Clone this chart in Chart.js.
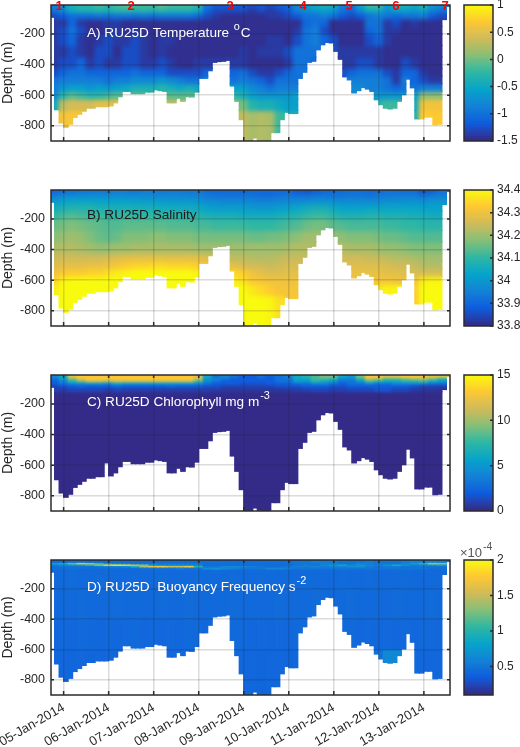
<!DOCTYPE html>
<html>
<head>
<meta charset="utf-8">
<title>RU25D sections</title>
<script src="https://cdn.jsdelivr.net/npm/chart.js@4"></script>
<style>
  html, body { margin: 0; padding: 0; background: #fff; }
  #page { position: relative; width: 520px; height: 747px; overflow: hidden; }
  canvas { position: absolute; }
</style>
</head>
<body>
<div id="page"></div>
<script>
// axis labels
const dayTicks = [5, 6, 7, 8, 9, 10, 11, 12, 13];
const dayLabels = ["05-Jan-2014", "06-Jan-2014", "07-Jan-2014", "08-Jan-2014", "09-Jan-2014", "10-Jan-2014", "11-Jan-2014", "12-Jan-2014", "13-Jan-2014"];
const depthTicks = [-200, -400, -600, -800];
const stationDays = [4.9, 6.5, 8.7, 10.32, 11.34, 12.38, 13.47];
const stationLabels = ["1", "2", "3", "4", "5", "6", "7"];

// seabed under the glider track, one value per 0.1 day starting at 4.75
const seabed = [-90,-695,-782,-810,-790,-745,-725,-705,-685,-685,-675,-675,-675,-670,-650,-610,-575,-575,-590,-590,
  -590,-580,-580,-565,-570,-575,-650,-650,-620,-640,-610,-612,-580,-490,-490,-440,-385,-380,-378,-372,
  -540,-640,-760,-900,-900,-880,-895,-900,-900,-845,-845,-760,-712,-720,-720,-490,-450,-385,-378,-303,
  -270,-255,-258,-313,-365,-480,-500,-585,-570,-550,-560,-575,-630,-662,-685,-690,-685,-640,-597,-495,
  -552,-755,-755,-743,-743,-793,-790,-105,-20];

// depth bin edges, and cell values: one row per bin, one value per 0.2 day
const tsEdges = [-10,-30,-60,-100,-150,-200,-275,-350,-425,-475,-525,-575,-625,-700,-900];
const temperature = [
[-.9,-.7,-.4,-.3,-.3,-.2,-.3,-.2,-.1,-.2,-.2,-.2,-.1,-.2,-.2,-.2,-.3,-1,-1.2,-1.2,-1.2,-1.2,-1.3,-1.2,-1.3,-1.2,-1.1,-.8,-.6,-.5,-.4,-.5,-.9,-1,-.6,-.2,-.2,-.6,-.4,-.4,-.5,-.3,-.7,-.8,-.9],
[-1,-.8,-.5,-.4,-.4,-.35,-.4,-.3,-.3,-.35,-.3,-.35,-.3,-.35,-.35,-.35,-.5,-1.1,-1.3,-1.3,-1.3,-1.3,-1.4,-1.3,-1.4,-1.3,-1.2,-.9,-.8,-.7,-.6,-.7,-1,-1.1,-.8,-.5,-.5,-.8,-.6,-.6,-.7,-.6,-.9,-1,-1],
[-1.3,-1.2,-1.05,-1.05,-1.05,-1,-1.05,-1,-1,-1.05,-1,-1.05,-1,-1,-1,-1,-1.1,-1.3,-1.4,-1.47,-1.47,-1.47,-1.47,-1.47,-1.4,-1.4,-1.3,-1.2,-1,-1,-.9,-1,-1.2,-1.3,-1.2,-1,-.9,-1,-1.1,-1,-1,-.9,-1.2,-1.3,-1.3],
[-1.4,-1.4,-1.1,-1.4,-1.47,-1.47,-1.4,-1.4,-1.47,-1.47,-1.47,-1.47,-1.47,-1.47,-1.47,-1.47,-1.47,-1.47,-1.47,-1.47,-1.47,-1.47,-1.47,-1.47,-1.47,-1.47,-1.47,-1.47,-1.1,-1,-1.1,-1.47,-1.47,-1.47,-1.47,-1,-1,-1.4,-1.28,-1.47,-1.4,-1.47,-1.47,-1.47,-1.47],
[-1.4,-1.28,-1,-1.28,-1.47,-1.47,-1.4,-1.4,-1.47,-1.4,-1.47,-1.47,-1.47,-1.47,-1.47,-1.47,-1.47,-1.47,-1.47,-1.47,-1.47,-1.47,-1.47,-1.47,-1.47,-1.47,-1.47,-1.4,-1,-.9,-1.28,-1.47,-1.47,-1.47,-1.47,-1.1,-1,-1.4,-1.4,-1.47,-1.47,-1.47,-1.47,-1.47,-1.47],
[-1.4,-1.28,-1.1,-1.4,-1.47,-1.4,-1.28,-1.4,-1.4,-1.28,-1.4,-1.47,-1.4,-1.4,-1.47,-1.47,-1.47,-1.47,-1.47,-1.47,-1.47,-1.47,-1.47,-1.47,-1.4,-1.4,-1.47,-1.28,-1,-.9,-1.1,-1.28,-1.47,-1.47,-1.47,-1.28,-1.1,-1.4,-1.47,-1.47,-1.47,-1.47,-1.47,-1.47,-1.47],
[-1.4,-1.4,-1.28,-1.4,-1.47,-1.28,-1.28,-1.47,-1.28,-1.28,-1.4,-1.47,-1.4,-1.47,-1.47,-1.47,-1.47,-1.47,-1.47,-1.47,-1.47,-1.4,-1.47,-1.4,-1.4,-1.4,-1.28,-1,-1,-1,-1.1,-1.28,-1.4,-1.4,-1.4,-1.4,-1.4,-1.47,-1.47,-1.47,-1.47,-1.47,-1.47,-1.47,-1.47],
[-1.4,-1.28,-1.28,-1.1,-1.4,-1.28,-1.4,-1.4,-1.28,-1.28,-1.4,-1.4,-1.28,-1.4,-1.47,-1.47,-1.4,-1.4,-1.4,-1.4,-1.4,-1.4,-1.47,-1.47,-1.47,-1.47,-1.4,-1,-1,-1.1,-1.28,-1.4,-1.4,-1.4,-1.28,-1.28,-1.4,-1.47,-1.47,-1.28,-1.4,-1.47,-1.47,-1.47,-1.47],
[-1.28,-1.1,-1,-1,-1.1,-1.1,-1.1,-1.1,-1.1,-1,-1.1,-1.1,-1.1,-1.28,-1.28,-1.28,-1.28,-1.1,-1.28,-1.28,-1.1,-1,-1.28,-1.4,-1.4,-1.28,-1.1,-1,-1,-1,-1,-1,-1.28,-1.1,-1,-1,-1,-1.28,-1.4,-1.1,-1.1,-1.4,-1.47,-1.47,-1.47],
[-1,-.9,-.9,-.9,-.9,-.9,-1,-.9,-.9,-.8,-.8,-.8,-.7,-.8,-.9,-1,-1,-.9,-.9,-.9,-1,-.9,-1,-1.1,-1.28,-1,-1,-1,-1,-1,-1,-1,-1.1,-.9,-.9,-.9,-.9,-1,-1.4,-.9,-1.1,-1.28,-1.4,-1.4,-1.4],
[-.9,-.7,-.6,-.6,-.7,-.6,-.7,-.6,-.5,-.4,-.4,-.4,-.3,-.4,-.5,-.4,-.5,-.5,-.5,-.5,-.6,-.6,-.8,-.9,-1,-.9,-.9,-.9,-.9,-.9,-.9,-.9,-.9,-.8,-.8,-.9,-.9,-1,-1.1,-1,-1,-.9,-.9,-.9,-.9],
[-.8,-.3,-.1,-.2,-.3,-.3,-.2,-.1,-.1,-.1,-.1,-.1,-.1,-.1,-.1,-.1,-.2,-.3,-.3,-.3,-.3,-.4,-.6,-.7,-.7,-.7,-.7,-.6,-.6,-.7,-.8,-.8,-.8,-.8,-.8,-.8,-.7,-.7,-.7,-.7,-.6,.1,.1,.1,.1],
[-.5,.3,.4,.4,.4,.5,.5,.5,.4,.4,.3,.3,.3,.3,.3,.3,.2,.1,.1,.1,.1,0,-.3,-.4,-.4,-.5,-.6,-.6,-.6,-.7,-.8,-.8,-.8,-.8,-.8,-.8,-.3,-.2,-.2,-.3,-.5,.6,.6,.6,.6],
[.4,.6,.65,.65,.65,.6,.6,.55,.5,.5,.5,.5,.5,.5,.4,.4,.3,.3,.3,.3,.3,.3,.2,.25,.2,-.2,-.4,-.4,-.5,-.5,-.5,-.5,-.5,-.5,-.5,-.5,-.2,-.1,0,-.2,-.4,.7,.7,.7,.7]
];
const salinity = [
[33.9,33.91,33.92,33.93,33.93,33.93,33.93,33.94,33.94,33.93,33.94,33.94,33.93,33.93,33.93,33.93,33.93,33.91,33.9,33.9,33.9,33.9,33.9,33.9,33.9,33.9,33.9,33.87,33.86,33.87,33.9,33.9,33.91,33.91,33.91,33.9,33.91,33.92,33.91,33.91,33.91,33.86,33.88,33.92,33.92],
[33.94,33.96,33.97,33.97,33.97,33.98,33.97,33.98,33.97,33.97,33.97,33.96,33.96,33.96,33.96,33.95,33.95,33.93,33.92,33.92,33.92,33.92,33.92,33.91,33.91,33.92,33.93,33.92,33.92,33.93,33.93,33.92,33.92,33.93,33.93,33.92,33.93,33.93,33.94,33.94,33.94,33.92,33.94,33.94,33.95],
[34.0,34.02,34.03,34.03,34.03,34.02,34.02,34.02,34.02,34.02,34.01,34.01,34.01,34.0,34.0,34.0,33.99,33.97,33.97,33.96,33.96,33.96,33.96,33.95,33.95,33.96,33.96,33.97,33.97,33.98,33.98,33.98,33.97,33.97,33.97,33.97,33.97,33.98,33.98,33.98,33.98,33.98,33.99,33.99,33.99],
[34.05,34.07,34.08,34.08,34.08,34.07,34.07,34.06,34.07,34.06,34.06,34.06,34.05,34.05,34.05,34.05,34.04,34.02,34.01,34.01,34.01,34.01,34.0,34.0,34.0,34.01,34.02,34.03,34.05,34.06,34.06,34.04,34.02,34.02,34.02,34.03,34.03,34.03,34.03,34.03,34.03,34.02,34.02,34.02,34.02],
[34.1,34.12,34.13,34.12,34.11,34.11,34.1,34.1,34.11,34.1,34.1,34.1,34.1,34.1,34.09,34.09,34.08,34.07,34.06,34.06,34.06,34.05,34.05,34.05,34.05,34.06,34.07,34.08,34.1,34.11,34.11,34.09,34.07,34.07,34.07,34.08,34.08,34.07,34.07,34.07,34.06,34.06,34.05,34.05,34.05],
[34.15,34.16,34.17,34.16,34.15,34.14,34.13,34.13,34.14,34.14,34.14,34.14,34.14,34.13,34.13,34.13,34.12,34.12,34.11,34.11,34.11,34.11,34.1,34.1,34.1,34.11,34.12,34.13,34.15,34.16,34.16,34.14,34.13,34.12,34.12,34.12,34.12,34.11,34.11,34.1,34.1,34.09,34.09,34.09,34.09],
[34.18,34.19,34.2,34.19,34.17,34.15,34.14,34.15,34.17,34.17,34.17,34.18,34.18,34.17,34.17,34.17,34.16,34.16,34.16,34.16,34.16,34.16,34.15,34.15,34.16,34.16,34.17,34.18,34.2,34.2,34.2,34.19,34.18,34.17,34.17,34.17,34.16,34.15,34.15,34.14,34.13,34.13,34.13,34.13,34.13],
[34.21,34.22,34.22,34.21,34.2,34.19,34.19,34.2,34.2,34.21,34.21,34.21,34.21,34.21,34.21,34.21,34.2,34.2,34.2,34.2,34.2,34.2,34.2,34.2,34.2,34.2,34.21,34.22,34.22,34.22,34.22,34.22,34.22,34.21,34.21,34.21,34.2,34.19,34.19,34.18,34.17,34.17,34.17,34.17,34.17],
[34.24,34.25,34.25,34.25,34.25,34.25,34.26,34.27,34.28,34.28,34.28,34.28,34.28,34.28,34.28,34.28,34.28,34.27,34.26,34.25,34.23,34.23,34.22,34.22,34.22,34.23,34.24,34.24,34.24,34.24,34.24,34.25,34.25,34.25,34.25,34.24,34.24,34.23,34.22,34.22,34.21,34.2,34.2,34.2,34.2],
[34.27,34.28,34.28,34.28,34.29,34.29,34.3,34.31,34.33,34.34,34.34,34.35,34.35,34.34,34.34,34.34,34.33,34.32,34.31,34.3,34.28,34.26,34.25,34.25,34.24,34.25,34.26,34.26,34.26,34.26,34.26,34.27,34.27,34.27,34.27,34.27,34.27,34.26,34.25,34.25,34.24,34.22,34.22,34.22,34.22],
[34.3,34.32,34.33,34.33,34.34,34.34,34.36,34.38,34.39,34.4,34.4,34.4,34.4,34.4,34.4,34.4,34.39,34.39,34.38,34.37,34.35,34.33,34.3,34.28,34.27,34.27,34.28,34.28,34.28,34.28,34.28,34.29,34.29,34.29,34.29,34.29,34.29,34.28,34.28,34.27,34.26,34.26,34.26,34.26,34.26],
[34.34,34.39,34.4,34.4,34.4,34.4,34.4,34.4,34.4,34.4,34.4,34.4,34.4,34.4,34.4,34.4,34.4,34.4,34.4,34.4,34.38,34.36,34.32,34.31,34.3,34.3,34.3,34.3,34.3,34.3,34.3,34.31,34.31,34.31,34.31,34.31,34.31,34.31,34.3,34.3,34.3,34.38,34.39,34.39,34.38],
[34.38,34.4,34.4,34.4,34.4,34.4,34.4,34.4,34.4,34.4,34.4,34.4,34.4,34.4,34.4,34.4,34.4,34.4,34.4,34.4,34.4,34.4,34.37,34.35,34.33,34.31,34.31,34.31,34.31,34.31,34.31,34.31,34.31,34.31,34.31,34.31,34.37,34.39,34.39,34.37,34.33,34.4,34.4,34.4,34.4],
[34.4,34.4,34.4,34.4,34.4,34.4,34.4,34.4,34.4,34.4,34.4,34.4,34.4,34.4,34.4,34.4,34.4,34.4,34.4,34.4,34.4,34.4,34.4,34.4,34.39,34.36,34.32,34.32,34.32,34.32,34.32,34.32,34.32,34.32,34.32,34.32,34.38,34.4,34.4,34.38,34.33,34.4,34.4,34.4,34.4]
];

const chlEdges = [-10,-25,-40,-55,-70,-90,-120,-900];
const chlorophyll = [
[4,6,12,13,13,13,13,13,13,13,13,13,13,13,13,13,12,6,3,4,3,2,2,3,2,3,4,6,7,8,9,9,6,5,9,13,13,12,12,13,13,13,12,12,12],
[3,5,9,12,13,13,13,13,13,13,13,13,13,13,13,13,11,5,4,3,2,2,2,2,2,3,3,6,6,8,8,7,4,4,7,11,10,8,8,9,10,10,9,7,8],
[2,4,7,9,11,11,10,11,11,11,11,11,11,11,11,11,8,4,3,2,2,2,2,2,2,3,3,5,5,7,6,5,3,3,5,8,7,6,6,7,7,8,6,5,4],
[2,3,4,4,5,5,4,6,5,5,5,5,5,5,5,5,4,3,2,2,2,1.5,1.5,1.5,2,2,2,3,3,4,4,3,2,3,3,4,3,3,4,4,4,4,3,3,2],
[1,1.5,2,2.5,2,2,2,2.5,2,2,2,2,2,2.5,2,2,2,1.5,1.5,1,1,1,1,1,1,1.5,1.5,1.5,2,2,2,1.5,1.5,2,2,2,2,2,2,2,1.5,1,1,1,1],
[.8,.7,1,1,1,1,.7,1,.8,.7,.8,.7,.7,.7,.7,.7,.7,.7,.6,.5,.5,.5,.5,.5,.5,.5,.6,.7,.8,1,1,.8,.8,1,1,1,1.5,1.5,1,1,.6,.5,.4,.3,.3],
[.05,.05,.05,.05,.05,.05,.05,.05,.05,.05,.05,.05,.05,.05,.05,.05,.05,.05,.05,.05,.05,.05,.05,.05,.05,.05,.05,.05,.05,.05,.05,.05,.05,.05,.05,.05,.05,.05,.05,.05,.05,.05,.05,.05,.05]
];

const buoyEdges = [-10,-25,-35,-45,-55,-70,-100,-200,-400,-600,-900];
const buoyancy = [
[.45,.45,.48,.5,.45,.45,.45,.45,.45,.45,.45,.45,.45,.45,.45,.45,.45,.45,.45,.45,.45,.45,.45,.45,.45,.45,.45,.5,.5,.55,.55,.55,.5,.5,.5,.55,.5,.5,.5,.55,.6,.6,.6,.55,.5],
[.8,.9,1.2,1.6,1.4,1.1,.7,.6,.55,.5,.5,.5,.5,.5,.5,.5,.5,.45,.45,.45,.45,.45,.45,.45,.45,.45,.45,.5,.5,.5,.55,.55,.5,.5,.6,.55,.5,.5,.5,.6,.8,1,1.4,1.3,.8],
[.55,.6,.7,.75,1,1.3,1.8,1.9,1.8,1.5,1.3,.8,.7,.7,.7,.7,.6,.45,.45,.45,.45,.45,.45,.45,.45,.45,.45,.5,.55,.5,.6,.7,.85,.6,.7,.6,.55,.7,.9,.7,.55,.6,.7,.8,.6],
[.45,.5,.5,.5,.5,.55,.6,.6,.7,1,1.4,1.7,1.7,1.5,1.5,1.7,1,.5,.5,.6,.65,.6,.55,.5,.45,.45,.5,.55,.55,.6,.55,.6,.6,.7,.7,.55,.5,.55,.55,.5,.5,.5,.5,.5,.5],
[.45,.45,.45,.45,.45,.45,.45,.45,.45,.45,.5,.5,.5,.5,.55,.5,.5,.65,.7,.6,.55,.5,.5,.5,.6,.6,.55,.5,.5,.5,.5,.5,.5,.5,.5,.5,.5,.5,.5,.5,.5,.5,.45,.45,.45],
[.42,.43,.44,.42,.43,.42,.44,.42,.43,.42,.43,.42,.43,.42,.43,.42,.43,.42,.44,.42,.43,.43,.42,.43,.44,.43,.42,.43,.44,.43,.42,.43,.44,.43,.42,.44,.43,.42,.43,.44,.42,.43,.42,.43,.42],
[.42,.43,.44,.42,.43,.44,.42,.43,.42,.44,.42,.43,.44,.42,.43,.42,.44,.43,.42,.43,.44,.42,.43,.44,.43,.42,.43,.42,.44,.43,.42,.43,.44,.42,.43,.44,.42,.43,.42,.44,.43,.42,.43,.42,.43],
[.42,.43,.42,.44,.43,.42,.43,.44,.42,.43,.42,.43,.44,.42,.43,.44,.42,.43,.42,.43,.44,.42,.43,.42,.43,.44,.42,.43,.42,.44,.43,.42,.43,.44,.43,.42,.43,.42,.44,.43,.42,.43,.44,.42,.43],
[.41,.42,.41,.42,.43,.41,.42,.41,.42,.43,.41,.42,.41,.42,.41,.43,.42,.41,.42,.41,.42,.43,.41,.42,.41,.42,.41,.43,.42,.41,.42,.41,.42,.43,.41,.42,.41,.42,.41,.42,.41,.43,.42,.41,.42],
[.41,.41,.4,.41,.4,.41,.41,.4,.41,.4,.41,.41,.4,.41,.41,.4,.41,.41,.4,.41,.4,.41,.41,.4,.41,.41,.4,.41,.41,.4,.41,.41,.4,.47,.47,.45,.47,.62,.62,.5,.42,.41,.41,.41,.41]
];

// colour bar ticks
const tempCbTicks = [1, 0.5, 0, -0.5, -1, -1.5];
const saltCbTicks = [34.4, 34.3, 34.2, 34.1, 34, 33.9, 33.8];
const chlCbTicks = [15, 10, 5, 0];
const buoyCbTicks = [2, 1.5, 1, 0.5];

const parula = ["#352a87", "#0f5cdd", "#1481d6", "#06a4ca", "#2eb7a4", "#87bf77", "#d1bb59", "#fec832", "#f9fb0e"];

function hexRgb(h) {
  return [parseInt(h.slice(1, 3), 16), parseInt(h.slice(3, 5), 16), parseInt(h.slice(5, 7), 16)];
}

function colorFor(v, lo, hi) {
  const t = Math.min(1, Math.max(0, (v - lo) / (hi - lo))) * (parula.length - 1);
  const i = Math.min(parula.length - 2, Math.floor(t));
  const a = hexRgb(parula[i]), b = hexRgb(parula[i + 1]), f = t - i;
  return `rgb(${a.map((c, k) => Math.round(c + (b[k] - c) * f)).join(",")})`;
}

Chart.defaults.font.family = "'Liberation Sans', Arial, sans-serif";
Chart.defaults.font.size = 12.5;
Chart.defaults.color = "#262626";
Chart.defaults.animation = false;
Chart.defaults.events = [];
Chart.defaults.plugins.legend.display = false;
Chart.defaults.plugins.tooltip.enabled = false;

const INK = "#2b2b2b";

function addCanvas(left, top, width, height) {
  const c = document.createElement("canvas");
  c.width = width;
  c.height = height;
  c.style.left = left + "px";
  c.style.top = top + "px";
  c.style.width = width + "px";
  c.style.height = height + "px";
  document.getElementById("page").appendChild(c);
  return c.getContext("2d");
}

// text with a raised tail, e.g. m^-3
function drawSupText(ctx, x, y, main, sup, tail, color, size) {
  ctx.save();
  ctx.fillStyle = color;
  ctx.textBaseline = "middle";
  ctx.textAlign = "left";
  ctx.font = `${size}px 'Liberation Sans', Arial, sans-serif`;
  ctx.fillText(main, x, y);
  let w = ctx.measureText(main).width;
  if (sup) {
    ctx.font = `${size * 0.8}px 'Liberation Sans', Arial, sans-serif`;
    ctx.fillText(sup, x + w + 1, y - 6);
    w += ctx.measureText(sup).width + 1;
  }
  if (tail) {
    ctx.font = `${size}px 'Liberation Sans', Arial, sans-serif`;
    ctx.fillText(tail, x + w + 1, y);
  }
  ctx.restore();
}

// box and inward ticks, drawn over the cells
function frame(ctx, area, xTicks, yTicks, bothSides) {
  ctx.save();
  ctx.strokeStyle = INK;
  ctx.lineWidth = 1.5;
  ctx.beginPath();
  xTicks.forEach(px => {
    ctx.moveTo(px, area.bottom);
    ctx.lineTo(px, area.bottom - 4);
    ctx.moveTo(px, area.top);
    ctx.lineTo(px, area.top + 3);
  });
  yTicks.forEach(py => {
    if (bothSides) {
      ctx.moveTo(area.left, py);
      ctx.lineTo(area.left + 3, py);
    }
    ctx.moveTo(area.right, py);
    ctx.lineTo(area.right - 3, py);
  });
  ctx.stroke();
  ctx.strokeRect(area.left, area.top, area.right - area.left, area.bottom - area.top);
  ctx.restore();
}

function makePanel(opt) {
  const { top, height, edges, grid, lo, hi, showDates, extra, floorOverride, smooth } = opt;
  const xs = seabed.map((_, i) => 4.75 + i * 0.1);
  const datasets = grid.map((row, r) => {
    const upper = edges[r], lower = edges[r + 1];
    const colors = [];
    const data = xs.map((x, i) => {
      const v = row[Math.min(row.length - 1, Math.floor(i / 2))];
      colors.push(colorFor(v, lo, hi));
      const floor = floorOverride && floorOverride[i] !== undefined ? floorOverride[i] : seabed[i];
      if (upper <= floor) return { x, y: null };
      return { x, y: [Math.max(lower, floor), upper] };
    });
    return {
      data,
      backgroundColor: colors,
      borderWidth: 0,
      inflateAmount: 0.6,
      grouped: false,
      barPercentage: 1,
      categoryPercentage: 1
    };
  });

  new Chart(addCanvas(0, top, 520, height), {
    type: "bar",
    data: { datasets },
    options: {
      responsive: false,
      layout: { padding: { top: 5, right: 70, bottom: showDates ? 0 : 3, left: 0 } },
      scales: {
        x: {
          type: "linear",
          offset: false,
          min: 4.72,
          max: 13.58,
          afterBuildTicks: s => { s.ticks = dayTicks.map(value => ({ value })); },
          afterFit: s => { s.height = showDates ? 52 : 0; s.paddingLeft = 0; s.paddingRight = 0; },
          grid: { z: 1, offset: false, color: "rgba(30,30,30,0.16)", lineWidth: 1.5, drawTicks: false },
          border: { display: false },
          ticks: {
            display: !!showDates,
            autoSkip: false,
            minRotation: 30,
            maxRotation: 30,
            padding: 5,
            font: { size: 13 },
            callback: v => dayLabels[dayTicks.indexOf(v)]
          }
        },
        y: {
          min: -900,
          max: -10,
          afterBuildTicks: s => { s.ticks = depthTicks.map(value => ({ value })); },
          afterFit: s => { s.width = 51; s.paddingTop = 0; s.paddingBottom = 0; },
          grid: { z: 1, color: "rgba(30,30,30,0.16)", lineWidth: 1.5, drawTicks: false },
          border: { display: false },
          ticks: { padding: 6 },
          title: { display: true, text: "Depth (m)", font: { size: 14 }, padding: 0 }
        }
      }
    },
    plugins: [{
      id: "panelExtras",
      // soften the cell steps, the seabed edge stays as it is
      afterDatasetsDraw(chart) {
        const { ctx, chartArea: a, canvas } = chart;
        const w = Math.round(a.right - a.left), h = Math.round(a.bottom - a.top);
        const tmp = document.createElement("canvas");
        tmp.width = w;
        tmp.height = h;
        tmp.getContext("2d").drawImage(canvas, a.left, a.top, w, h, 0, 0, w, h);
        ctx.save();
        ctx.beginPath();
        ctx.rect(a.left, a.top, w, h);
        ctx.clip();
        ctx.globalCompositeOperation = "source-atop";
        ctx.filter = `blur(${smooth}px)`;
        ctx.drawImage(tmp, a.left, a.top);
        ctx.restore();
      },
      afterDraw(chart) {
        const { ctx, chartArea, scales } = chart;
        frame(ctx, chartArea, dayTicks.map(d => scales.x.getPixelForValue(d)),
          depthTicks.map(d => scales.y.getPixelForValue(d)), true);
        if (extra) extra(ctx, chartArea, scales);
      }
    }]
  });
}

function makeColorbar(opt) {
  const { top, height, padTop, padBottom, lo, hi, ticks, extra } = opt;
  const datasets = [];
  const steps = 64;
  for (let i = 0; i < steps; i++) {
    const a = lo + (hi - lo) * i / steps, b = lo + (hi - lo) * (i + 1) / steps;
    datasets.push({
      data: [[a, b]],
      backgroundColor: colorFor((a + b) / 2, lo, hi),
      borderWidth: 0,
      inflateAmount: 0.6,
      grouped: false,
      barPercentage: 1,
      categoryPercentage: 1
    });
  }
  new Chart(addCanvas(459, top, 61, height), {
    type: "bar",
    data: { labels: ["scale"], datasets },
    options: {
      responsive: false,
      layout: { padding: { top: padTop, bottom: padBottom, left: 5, right: 0 } },
      scales: {
        x: { display: false },
        y: {
          position: "right",
          min: lo,
          max: hi,
          afterBuildTicks: s => { s.ticks = ticks.map(value => ({ value })); },
          afterFit: s => { s.width = 27; s.paddingTop = 0; s.paddingBottom = 0; },
          grid: { display: false, drawTicks: false },
          border: { display: false },
          ticks: { padding: 4, font: { size: 12 }, callback: v => String(v) }
        }
      }
    },
    plugins: [{
      id: "cbExtras",
      afterDraw(chart) {
        const { ctx, chartArea, scales } = chart;
        frame(ctx, chartArea, [], ticks.map(t => scales.y.getPixelForValue(t)), false);
        if (extra) extra(ctx, chartArea);
      }
    }]
  });
}

makePanel({
  top: 0, height: 144, edges: tsEdges, grid: temperature, lo: -1.5, hi: 1, smooth: 2.2,
  extra(ctx, area, scales) {
    drawSupText(ctx, 87, 33, "A) RU25D Temperature ", "o", "C", "#ffffff", 13.6);
    ctx.save();
    ctx.fillStyle = "#ff0000";
    ctx.font = "bold 13px 'Liberation Sans', Arial, sans-serif";
    ctx.textAlign = "center";
    ctx.textBaseline = "middle";
    stationDays.forEach((d, i) => ctx.fillText(stationLabels[i], scales.x.getPixelForValue(d), 6));
    ctx.restore();
  }
});
makePanel({
  top: 185, height: 144, edges: tsEdges, grid: salinity, lo: 33.8, hi: 34.4, smooth: 2.5,
  extra(ctx) { drawSupText(ctx, 87, 30, "B) RU25D Salinity", "", "", "#1a1a1a", 13.6); }
});
makePanel({
  top: 370, height: 144, edges: chlEdges, grid: chlorophyll, lo: 0, hi: 15, smooth: 1,
  floorOverride: { 12: -585 },
  extra(ctx) { drawSupText(ctx, 87, 32, "C) RU25D Chlorophyll mg m", "-3", "", "#ffffff", 13.6); }
});
makePanel({
  top: 555, height: 192, edges: buoyEdges, grid: buoyancy, lo: 0.1, hi: 2, showDates: true, smooth: 0.5,
  extra(ctx) { drawSupText(ctx, 87, 32, "D) RU25D  Buoyancy Frequency s", "-2", "", "#ffffff", 13.6); }
});

makeColorbar({ top: 0, height: 150, padTop: 5, padBottom: 9, lo: -1.5, hi: 1, ticks: tempCbTicks });
makeColorbar({ top: 180, height: 155, padTop: 10, padBottom: 9, lo: 33.8, hi: 34.4, ticks: saltCbTicks });
makeColorbar({ top: 365, height: 155, padTop: 10, padBottom: 9, lo: 0, hi: 15, ticks: chlCbTicks });
makeColorbar({
  top: 540, height: 165, padTop: 20, padBottom: 10, lo: 0.1, hi: 2, ticks: buoyCbTicks,
  extra(ctx) { drawSupText(ctx, 1, 13, "×10", "-4", "", "#555555", 13); }
});
</script>
</body>
</html>
